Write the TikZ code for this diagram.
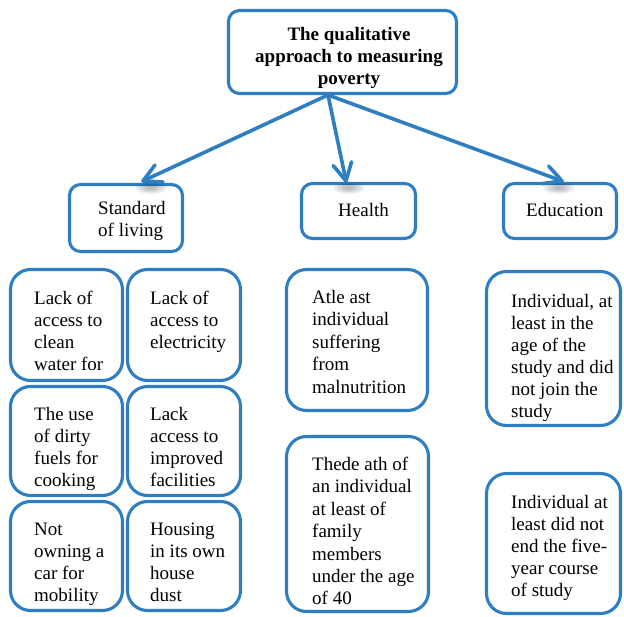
\documentclass[tikz,border=0pt]{standalone}
\usepackage{fontspec}
\setmainfont{Liberation Serif}
\usetikzlibrary{calc}
\definecolor{bblue}{RGB}{46,126,193}
\tikzset{
  x=1pt,y=1pt,
  box/.style={draw=bblue,line width=3.1pt,fill=white,inner sep=0pt},
  topbox/.style={box,rounded corners=11pt},
  itembox/.style={box,rounded corners=20pt},
  lbl/.style={anchor=north west,inner sep=0pt,align=left,font=\fontsize{19}{22}\selectfont},
  arr/.style={draw=bblue,line width=3.6pt,line cap=round,line join=round},
  shad/.style={fill=black,opacity=0.07,draw=none}
}
\begin{document}
\begin{tikzpicture}
\useasboundingbox (0,0) rectangle (624,-617);
% boxes
\node[topbox,minimum width=228pt,minimum height=83pt] (top) at (342.5,-52) {};
\node[topbox,minimum width=113pt,minimum height=67pt] (std) at (126,-218) {};
\node[topbox,minimum width=114pt,minimum height=55pt] (hea) at (358.5,-211) {};
\node[topbox,minimum width=113pt,minimum height=55pt] (edu) at (560,-211) {};
\node[itembox,minimum width=112pt,minimum height=111pt] (s1) at (66.5,-325) {};
\node[itembox,minimum width=113pt,minimum height=111pt] (s2) at (184,-325) {};
\node[itembox,minimum width=112pt,minimum height=109pt] (s3) at (66.5,-441) {};
\node[itembox,minimum width=113pt,minimum height=109pt] (s4) at (184,-441) {};
\node[itembox,minimum width=112pt,minimum height=109pt] (s5) at (66.5,-556) {};
\node[itembox,minimum width=113pt,minimum height=109pt] (s6) at (184,-556) {};
\node[itembox,minimum width=141pt,minimum height=141pt] (h1) at (357,-340) {};
\node[itembox,minimum width=142pt,minimum height=175pt] (h2) at (357.5,-524) {};
\node[itembox,minimum width=134pt,minimum height=154pt] (e1) at (553.5,-348.5) {};
\node[itembox,minimum width=134pt,minimum height=140pt] (e2) at (553.5,-543.5) {};
% texts
\node[lbl,anchor=north,align=center,font=\fontsize{19}{22}\selectfont\bfseries] (ttop) at (349,-24.6)
  {\strut The qualitative\\approach to measuring\\poverty};
\node[lbl] (tstd) at (98,-198.6) {\strut Standard\\of living};
\node[lbl] (thea) at (338,-200.6) {\strut Health};
\node[lbl] (tedu) at (526,-200.6) {\strut Education};
\node[lbl] (ts1) at (34,-288.6) {\strut Lack of\\access to\\clean\\water for};
\node[lbl] (ts2) at (150,-288.6) {\strut Lack of\\access to\\electricity};
\node[lbl] (ts3) at (34,-404.6) {\strut The use\\of dirty\\fuels for\\cooking};
\node[lbl] (ts4) at (150,-404.6) {\strut Lack\\access to\\improved\\facilities};
\node[lbl] (ts5) at (34,-519.6) {\strut Not\\owning a\\car for\\mobility};
\node[lbl] (ts6) at (150,-519.6) {\strut Housing\\in its own\\house\\dust};
\node[lbl,font=\fontsize{19}{22.4}\selectfont] (th1) at (312,-287.6) {\strut Atle ast\\individual\\suffering\\from\\malnutrition};
\node[lbl,font=\fontsize{19}{22.4}\selectfont] (th2) at (312,-454.6) {\strut Thede ath of\\an individual\\at least of\\family\\members\\under the age\\of 40};
\node[lbl] (te1) at (511,-291.6) {\strut Individual, at\\least in the\\age of the\\study and did\\not join the\\study};
\node[lbl] (te2) at (511,-492.6) {\strut Individual at\\least did not\\end the five-\\year course\\of study};
% arrows
\coordinate (src) at (328,-95);
\coordinate (tstdA) at ($(std.north)+(17,2)$);
\coordinate (theaA) at ($(hea.north)+(-12.5,1)$);
\coordinate (teduA) at ($(edu.north)+(2,1)$);
\foreach \p/\dx in {tstdA/8,theaA/3,teduA/-3}{
  \foreach \r in {4,7,10,13}{
    \fill[shad] ($(\p)+(\dx,-7)$) ellipse ({\r*1.2pt} and {\r*0.45pt});
  }
}
\foreach \p in {tstdA,theaA,teduA}{
  \draw[arr] (src) -- (\p);
  \draw[arr] ($(\p)!20pt!28:(src)$) -- (\p) -- ($(\p)!20pt!-28:(src)$);
}
\end{tikzpicture}
\end{document}
